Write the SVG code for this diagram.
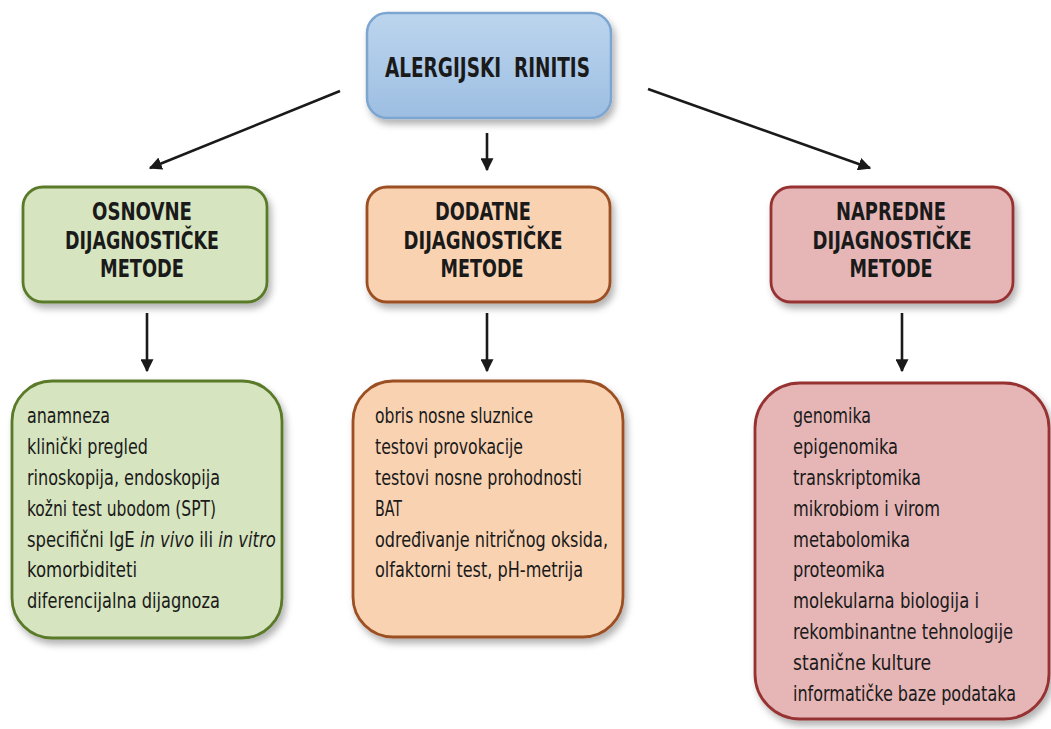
<svg xmlns="http://www.w3.org/2000/svg" width="1051" height="729" viewBox="0 0 1051 729">
  <defs>
    <linearGradient id="blueGrad" x1="0" y1="0" x2="0" y2="1">
      <stop offset="0" stop-color="#bcd5ee"/>
      <stop offset="1" stop-color="#9dbee2"/>
    </linearGradient>
    <filter id="shadow" x="-10%" y="-10%" width="125%" height="130%">
      <feDropShadow dx="3" dy="5" stdDeviation="3.5" flood-color="#000" flood-opacity="0.3"/>
    </filter>
    <marker id="arrow" viewBox="0 0 10 10" refX="9" refY="5" markerWidth="5" markerHeight="5" orient="auto" markerUnits="strokeWidth">
      <path d="M0,0 L10,5 L0,10 z" fill="#1a1a1a"/>
    </marker>
  </defs>
  <style>
    .box { stroke-width: 2.8; filter: url(#shadow); }
    .green { fill: #d6e4bf; stroke: #5a7a2c; }
    .orange { fill: #f9d2b2; stroke: #9c4f22; }
    .red { fill: #e6b6b6; stroke: #973232; }
    .blue { fill: url(#blueGrad); stroke: #7ca5d0; stroke-width: 2.5; filter: url(#shadow); }
    .head { font-family: "Liberation Sans Narrow", "DejaVu Sans Condensed", "Liberation Sans", sans-serif; font-weight: bold; font-size: 24px; fill: #1a1a1a; text-anchor: middle; }
    .title { font-family: "Liberation Sans Narrow", "DejaVu Sans Condensed", "Liberation Sans", sans-serif; font-weight: bold; font-size: 27px; fill: #1a1a1a; }
    .body { font-family: "Liberation Sans Narrow", "DejaVu Sans Condensed", "Liberation Sans", sans-serif; font-size: 22px; fill: #1a1a1a; }
    .it { font-style: italic; }
    .conn { stroke: #1a1a1a; stroke-width: 2.6; fill: none; marker-end: url(#arrow); }
  </style>
  <rect width="1051" height="729" fill="#ffffff"/>

  <g id="connectors">
    <line class="conn" x1="340" y1="91" x2="150" y2="168"/>
    <line class="conn" x1="487" y1="133" x2="487" y2="170"/>
    <line class="conn" x1="648" y1="89" x2="870" y2="168"/>
    <line class="conn" x1="147" y1="313" x2="147" y2="371"/>
    <line class="conn" x1="487" y1="313" x2="487" y2="371"/>
    <line class="conn" x1="902" y1="313" x2="902" y2="371"/>
  </g>

  <g id="node-alergijski-rinitis">
    <rect class="blue" x="367" y="13" width="244" height="105" rx="20"/>
    <text class="title" x="385" y="77" textLength="205" lengthAdjust="spacingAndGlyphs" xml:space="preserve">ALERGIJSKI  RINITIS</text>
  </g>

  <g id="node-osnovne">
    <rect class="box green" x="23" y="187" width="244" height="115" rx="20"/>
    <text class="head" x="142" y="220" textLength="100" lengthAdjust="spacingAndGlyphs">OSNOVNE</text>
    <text class="head" x="142" y="249" textLength="154" lengthAdjust="spacingAndGlyphs">DIJAGNOSTIČKE</text>
    <text class="head" x="142" y="277" textLength="84" lengthAdjust="spacingAndGlyphs">METODE</text>
  </g>

  <g id="node-dodatne">
    <rect class="box orange" x="367" y="187" width="243" height="115" rx="20"/>
    <text class="head" x="483" y="220" textLength="96" lengthAdjust="spacingAndGlyphs">DODATNE</text>
    <text class="head" x="483" y="249" textLength="159" lengthAdjust="spacingAndGlyphs">DIJAGNOSTIČKE</text>
    <text class="head" x="482" y="277" textLength="83" lengthAdjust="spacingAndGlyphs">METODE</text>
  </g>

  <g id="node-napredne">
    <rect class="box red" x="771" y="187" width="242" height="115" rx="20"/>
    <text class="head" x="891" y="220" textLength="110" lengthAdjust="spacingAndGlyphs">NAPREDNE</text>
    <text class="head" x="892" y="249" textLength="159" lengthAdjust="spacingAndGlyphs">DIJAGNOSTIČKE</text>
    <text class="head" x="891" y="277" textLength="83" lengthAdjust="spacingAndGlyphs">METODE</text>
  </g>

  <g id="node-osnovne-lista">
    <rect class="box green" x="12" y="381" width="270" height="257" rx="40"/>
    <g transform="translate(27 0) scale(0.8 1)">
      <text class="body" x="0" y="423.5" textLength="103.75" lengthAdjust="spacingAndGlyphs">anamneza</text>
      <text class="body" x="0" y="454.3" textLength="151.25" lengthAdjust="spacingAndGlyphs">klinički pregled</text>
      <text class="body" x="0" y="485.1" textLength="241.25" lengthAdjust="spacingAndGlyphs">rinoskopija, endoskopija</text>
      <text class="body" x="0" y="515.9" textLength="236.25" lengthAdjust="spacingAndGlyphs">kožni test ubodom (SPT)</text>
      <text class="body" x="0" y="546.7" textLength="311" lengthAdjust="spacingAndGlyphs">specifični IgE <tspan class="it">in vivo</tspan> ili <tspan class="it">in vitro</tspan></text>
      <text class="body" x="0" y="577.5" textLength="137.5" lengthAdjust="spacingAndGlyphs">komorbiditeti</text>
      <text class="body" x="0" y="608.3" textLength="241.25" lengthAdjust="spacingAndGlyphs">diferencijalna dijagnoza</text>
    </g>
  </g>

  <g id="node-dodatne-lista">
    <rect class="box orange" x="353" y="381" width="270" height="256" rx="40"/>
    <g transform="translate(375 0) scale(0.8 1)">
      <text class="body" x="0" y="423.5" textLength="197.5" lengthAdjust="spacingAndGlyphs">obris nosne sluznice</text>
      <text class="body" x="0" y="454.3" textLength="185" lengthAdjust="spacingAndGlyphs">testovi provokacije</text>
      <text class="body" x="0" y="485.1" textLength="258.75" lengthAdjust="spacingAndGlyphs">testovi nosne prohodnosti</text>
      <text class="body" x="0" y="515.9" textLength="33.75" lengthAdjust="spacingAndGlyphs">BAT</text>
      <text class="body" x="0" y="546.7" textLength="291.25" lengthAdjust="spacingAndGlyphs">određivanje nitričnog oksida,</text>
      <text class="body" x="0" y="577.5" textLength="260" lengthAdjust="spacingAndGlyphs">olfaktorni test, pH-metrija</text>
    </g>
  </g>

  <g id="node-napredne-lista">
    <rect class="box red" x="755" y="383" width="294" height="336" rx="45"/>
    <g transform="translate(793 0) scale(0.8 1)">
      <text class="body" x="0" y="423.5" textLength="97.5" lengthAdjust="spacingAndGlyphs">genomika</text>
      <text class="body" x="0" y="454.3" textLength="131.25" lengthAdjust="spacingAndGlyphs">epigenomika</text>
      <text class="body" x="0" y="485.1" textLength="160" lengthAdjust="spacingAndGlyphs">transkriptomika</text>
      <text class="body" x="0" y="515.9" textLength="183.75" lengthAdjust="spacingAndGlyphs">mikrobiom i virom</text>
      <text class="body" x="0" y="546.7" textLength="146.25" lengthAdjust="spacingAndGlyphs">metabolomika</text>
      <text class="body" x="0" y="577.5" textLength="115" lengthAdjust="spacingAndGlyphs">proteomika</text>
      <text class="body" x="0" y="608.3" textLength="232.5" lengthAdjust="spacingAndGlyphs">molekularna biologija i</text>
      <text class="body" x="0" y="639.1" textLength="275" lengthAdjust="spacingAndGlyphs">rekombinantne tehnologije</text>
      <text class="body" x="0" y="669.9" textLength="172.5" lengthAdjust="spacingAndGlyphs">stanične kulture</text>
      <text class="body" x="0" y="700.7" textLength="278.75" lengthAdjust="spacingAndGlyphs">informatičke baze podataka</text>
    </g>
  </g>
</svg>
